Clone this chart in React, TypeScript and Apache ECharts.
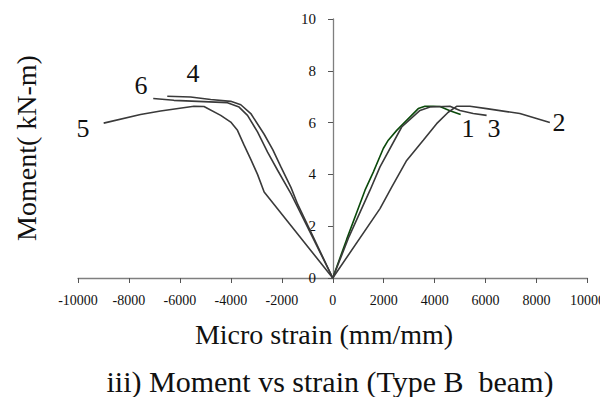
import React, { useEffect, useRef } from "react";
import * as echarts from "echarts";

const xTicks = [-10000, -8000, -6000, -4000, -2000, 0, 2000, 4000, 6000, 8000, 10000];
const yTicks = [0, 2, 4, 6, 8, 10];

const curve1: [number, number][] = [
  [0, 0], [549, 1.5], [1267, 3.39], [1592, 4.09], [1984, 5.0], [2180, 5.32], [2510, 5.7],
  [3357, 6.54], [3620, 6.63], [3945, 6.63], [4208, 6.62], [4600, 6.46], [5020, 6.31],
];
const curve2: [number, number][] = [
  [0, 0], [1855, 2.68], [2314, 3.51], [2902, 4.54], [3553, 5.32], [4078, 5.96], [4533, 6.4],
  [4863, 6.63], [5384, 6.63], [6039, 6.54], [7345, 6.35], [8522, 6.0],
];
const curve3: [number, number][] = [
  [0, 0], [640, 1.6], [1463, 3.39], [1855, 4.29], [2706, 5.83], [3424, 6.47], [3816, 6.6],
  [4600, 6.63], [4992, 6.47], [5514, 6.35], [6039, 6.28],
];
const curve4: [number, number][] = [
  [0, 0], [-1378, 2.85], [-1642, 3.5], [-2035, 4.29], [-2350, 4.95], [-2693, 5.55],
  [-3217, 6.35], [-3610, 6.69], [-4004, 6.82], [-4791, 6.89], [-5579, 6.99], [-6496, 7.02],
];
const curve5: [number, number][] = [
  [0, 0], [-2693, 3.32], [-2953, 4.0], [-3217, 4.58], [-3480, 5.13], [-3740, 5.7],
  [-4004, 6.02], [-4398, 6.28], [-5055, 6.62], [-5449, 6.63], [-6760, 6.45], [-7547, 6.31],
  [-8992, 5.98],
];
const curve6: [number, number][] = [
  [0, 0], [-1378, 2.74], [-1642, 3.26], [-2165, 4.16], [-2559, 4.86], [-2953, 5.64],
  [-3346, 6.28], [-3677, 6.6], [-4134, 6.77], [-6236, 6.86], [-7047, 6.93],
];

const curveLabels = ["1", "2", "3", "4", "5", "6"];
const xTitle = "Micro strain (mm/mm)";
const yTitle = "Moment( kN-m)";
const caption = "iii) Moment vs strain (Type B  beam)";

const FONT = "Times New Roman, Liberation Serif, serif";

export default function App() {
  const ref = useRef<HTMLDivElement>(null);
  useEffect(() => {
    if (!ref.current) return;
    const chart = echarts.init(ref.current, undefined, { renderer: "svg" });
    const grey = "#3a3a3a";
    const gridLeft = 78;
    const gridRight = 20;
    const gridW = 608 - gridLeft - gridRight;
    const mk = (name: string, data: [number, number][], color: string) => ({
      name,
      type: "line",
      data,
      showSymbol: false,
      symbol: "none",
      lineStyle: { color, width: 1.6 },
      z: 3,
    });
    const labelPos: [string, number, number][] = [
      [curveLabels[0], 468, 128],
      [curveLabels[1], 559, 122],
      [curveLabels[2], 494, 128],
      [curveLabels[3], 193, 73],
      [curveLabels[4], 83, 128],
      [curveLabels[5], 141, 85],
    ];
    chart.setOption({
      animation: false,
      backgroundColor: "#ffffff",
      textStyle: { fontFamily: FONT },
      grid: { left: gridLeft, right: gridRight, top: 19, bottom: 127, containLabel: false },
      xAxis: {
        type: "value",
        min: xTicks[0],
        max: xTicks[xTicks.length - 1],
        interval: 2000,
        axisLine: { onZero: false, lineStyle: { color: "#7f7f7f", width: 1.3 } },
        axisTick: { show: true, inside: false, length: 5, lineStyle: { color: "#555" } },
        axisLabel: {
          color: "#111",
          fontFamily: FONT,
          fontSize: 14,
          margin: 15,
          formatter: (v: number) => String(v),
        },
        splitLine: { show: false },
      },
      yAxis: {
        type: "value",
        position: "left",
        offset: -gridW / 2,
        min: yTicks[0],
        max: yTicks[yTicks.length - 1],
        interval: 2,
        axisLine: { show: true, onZero: false, lineStyle: { color: "#7f7f7f", width: 1.3 } },
        axisTick: { show: true, length: 5, lineStyle: { color: "#555" } },
        axisLabel: {
          color: "#111",
          fontFamily: FONT,
          fontSize: 15,
          margin: 17,
          formatter: (v: number) => String(v),
        },
        splitLine: { show: false },
      },
      series: [
        mk("1", curve1, "#0b4a0b"),
        mk("2", curve2, grey),
        mk("3", curve3, grey),
        mk("4", curve4, grey),
        mk("5", curve5, grey),
        mk("6", curve6, grey),
      ],
      graphic: [
        ...labelPos.map(([t, x, y]) => ({
          type: "text",
          x,
          y,
          style: {
            text: t,
            fontFamily: FONT,
            fontSize: 26,
            fill: "#111",
            align: "center",
            verticalAlign: "middle",
          },
        })),
        {
          type: "text",
          x: 324,
          y: 334,
          style: {
            text: xTitle,
            fontFamily: FONT,
            fontSize: 28,
            fill: "#111",
            align: "center",
            verticalAlign: "middle",
          },
        },
        {
          type: "text",
          x: 330,
          y: 381,
          style: {
            text: caption,
            fontFamily: FONT,
            fontSize: 30,
            fill: "#111",
            align: "center",
            verticalAlign: "middle",
          },
        },
        {
          type: "text",
          x: 26,
          y: 148,
          rotation: Math.PI / 2,
          style: {
            text: yTitle,
            fontFamily: FONT,
            fontSize: 28,
            fill: "#111",
            align: "center",
            verticalAlign: "middle",
          },
        },
      ],
    });
    return () => chart.dispose();
  }, []);
  return <div ref={ref} style={{ width: 608, height: 405, margin: -8 }} />;
}
